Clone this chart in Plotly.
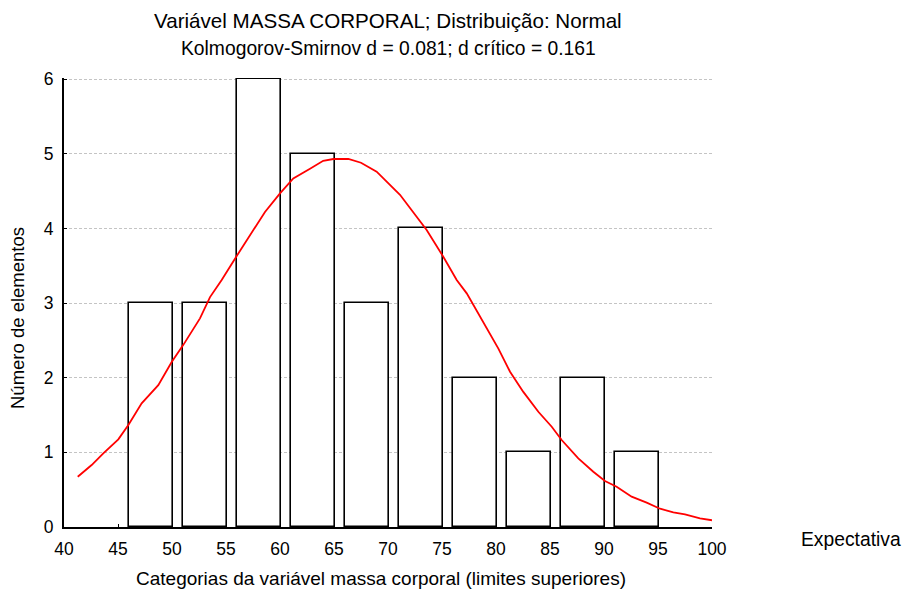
import plotly.graph_objects as go

# Histogram data: upper class limits and counts
upper_limits = [50, 55, 60, 65, 70, 75, 80, 85, 90, 95]
counts = [3, 3, 6, 5, 3, 4, 2, 1, 2, 1]

# Expected normal curve
curve_x = [41.27, 42.56, 43.64, 45.03, 45.96, 47.19, 48.73, 49.97, 51.05, 52.59,
           53.52, 54.6, 56.14, 58.61, 60.0, 61.23, 62.78, 64.0, 64.94, 66.33,
           67.5, 68.95, 71.11, 73.58, 75.12, 76.36, 77.29, 79.14, 80.22, 81.3,
           82.53, 83.92, 85.16, 86.08, 87.62, 89.01, 90.09, 91.17, 92.56, 93.95,
           95.19, 96.42, 97.5, 98.89, 100.0]
curve_y = [0.674, 0.83, 0.987, 1.174, 1.366, 1.656, 1.90, 2.21, 2.44, 2.795,
           3.08, 3.31, 3.665, 4.22, 4.47, 4.67, 4.80, 4.906, 4.93, 4.93,
           4.88, 4.76, 4.45, 3.98, 3.62, 3.31, 3.13, 2.66, 2.39, 2.08,
           1.81, 1.544, 1.343, 1.165, 0.92, 0.741, 0.616, 0.54, 0.406, 0.326,
           0.245, 0.196, 0.17, 0.116, 0.09]

x_ticks = [40, 45, 50, 55, 60, 65, 70, 75, 80, 85, 90, 95, 100]
y_ticks = [0, 1, 2, 3, 4, 5, 6]

title_1 = "Variável MASSA CORPORAL; Distribuição: Normal"
title_2 = "Kolmogorov-Smirnov d = 0.081; d crítico = 0.161"
x_title = "Categorias da variável massa corporal (limites superiores)"
y_title = "Número de elementos"
legend_text = "Expectativa"

bar_width = 4.05
bar_centers = [u + 0.05 - bar_width / 2 for u in upper_limits]

FONT = "Liberation Sans, Arial, sans-serif"
W, H = 905, 592
L, R, T, B = 64, 193, 78, 65
PW, PH = W - L - R, H - T - B
Y_MAX = 6.015


def px(xp):
    return (xp - L) / PW


def py(yp):
    return (H - B - yp) / PH


fig = go.Figure()
fig.add_trace(go.Bar(
    x=bar_centers, y=counts, width=bar_width,
    marker=dict(color="white", line=dict(color="black", width=1.6)),
    cliponaxis=False,
    showlegend=False,
))
fig.add_trace(go.Scatter(
    x=curve_x, y=curve_y, mode="lines",
    line=dict(color="#ff0000", width=1.8),
    showlegend=False,
))


def ann(text, x, y, size, **kw):
    d = dict(text=text, x=px(x), y=py(y), xref="paper", yref="paper",
             showarrow=False, xanchor="center", yanchor="middle",
             font=dict(family=FONT, size=size, color="black"))
    d.update(kw)
    return d


fig.update_layout(
    width=W, height=H,
    margin=dict(l=L, r=R, t=T, b=B),
    paper_bgcolor="white", plot_bgcolor="white",
    font=dict(family=FONT, size=17.5, color="black"),
    xaxis=dict(
        range=[40, 100], tickvals=x_ticks, ticktext=[str(v) for v in x_ticks],
        showline=True, linecolor="black", linewidth=2,
        showgrid=False, zeroline=False, automargin=False,
        ticks="inside", ticklen=3, tickcolor="black",
        tickfont=dict(size=17.5), ticklabelstandoff=5,
    ),
    yaxis=dict(
        range=[0, Y_MAX], tickvals=y_ticks,
        showline=True, linecolor="black", linewidth=2,
        showgrid=True, gridcolor="#c4c4c4", griddash="3px,2px", gridwidth=1.2,
        zeroline=False, automargin=False,
        ticks="inside", ticklen=3, tickcolor="black",
        tickfont=dict(size=17.5), ticklabelstandoff=5,
    ),
    bargap=0,
    annotations=[
        ann(title_1, 388, 20, 20.6),
        ann(title_2, 388, 48, 19.3),
        ann(x_title, 381, 578, 19),
        ann(y_title, 17, 318, 18.5, textangle=-90),
        ann(legend_text, 903, 539, 19.3, xanchor="right"),
    ],
)

fig.write_html("out.html", config={"displayModeBar": False},
               post_script="document.body.style.margin='0';")
